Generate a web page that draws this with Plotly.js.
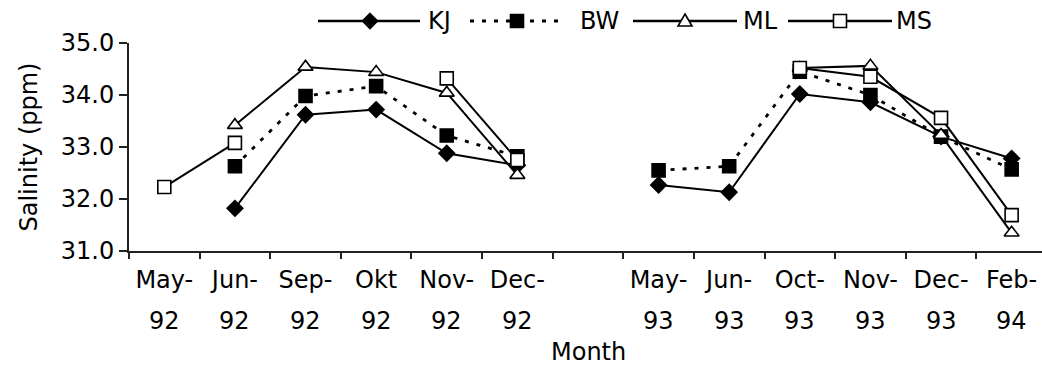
<!DOCTYPE html>
<html>
<head>
<meta charset="utf-8">
<script src="https://cdn.plot.ly/plotly-3.0.1.min.js"></script>
<style>
  html, body { margin: 0; padding: 0; background: #fff; }
  #chart { width: 1042px; height: 366px; }
</style>
</head>
<body>
<div id="chart"></div>
<script>
// ---- data ----
const months = ["May-92","Jun-92","Sep-92","Okt 92","Nov-92","Dec-92","gap","May-93","Jun-93","Oct-93","Nov-93","Dec-93","Feb-94"];
const monthLabels = ["May-","Jun-","Sep-","Okt","Nov-","Dec-","","May-","Jun-","Oct-","Nov-","Dec-","Feb-"];
const yearLabels = ["92","92","92","92","92","92","","93","93","93","93","93","94"];
const seriesNames = ["KJ","BW","ML","MS"];
const KJ = [null, 31.82, 33.62, 33.72, 32.88, 32.65, null, 32.27, 32.13, 34.02, 33.86, 33.20, 32.78];
const BW = [null, 32.63, 33.98, 34.17, 33.22, 32.82, null, 32.55, 32.63, 34.45, 34.00, 33.20, 32.57];
const ML = [null, 33.42, 34.54, 34.44, 34.04, 32.46, null, null, null, 34.52, 34.56, 33.23, 31.35];
const MS = [32.23, 33.08, null, null, 34.32, 32.75, null, null, null, 34.52, 34.35, 33.56, 31.69];
const yTicks = [31, 32, 33, 34, 35];

// ---- styles ----
const FONT = "DejaVu Sans, Liberation Sans, Arial, sans-serif";
const FS = 24;
const styles = {
  KJ: {dash: "solid", symbol: "diamond", size: 12, fill: "#000", lw: 2},
  BW: {dash: "4px,8px", symbol: "square", size: 13, fill: "#000", lw: 2.8},
  ML: {dash: "solid", symbol: "triangle-up", size: 13, fill: "#fff", lw: 2},
  MS: {dash: "solid", symbol: "square", size: 13, fill: "#fff", lw: 2}
};
const values = {KJ: KJ, BW: BW, ML: ML, MS: MS};

const traces = seriesNames.map(n => ({
  type: "scatter",
  mode: "lines+markers",
  name: n,
  x: months,
  y: values[n],
  connectgaps: false,
  line: {color: "#000", width: styles[n].lw, dash: styles[n].dash},
  marker: {symbol: styles[n].symbol, size: styles[n].size, color: styles[n].fill,
           line: {color: "#000", width: 1.6}},
  showlegend: false
}));

// ---- custom legend (long line samples like the original) ----
const L = 129, W = 913, T = 43, H = 208;
const px = v => (v - L) / W;
const py = v => (T + H - v) / H;
const legendPos = [
  {x0: 318, x1: 420, m: 370, t: 426},
  {x0: 470, x1: 563, m: 517, t: 578},
  {x0: 633, x1: 737, m: 685, t: 741},
  {x0: 788, x1: 892, m: 840, t: 894}
];
const ly = 21;
const shapes = [];
const annotations = [];
const markerPaths = {
  "diamond": "M0,7.5 L7.5,0 L0,-7.5 L-7.5,0 Z",
  "square": "M-6.5,-6.5 L6.5,-6.5 L6.5,6.5 L-6.5,6.5 Z",
  "triangle-up": "M0,7 L7,-5 L-7,-5 Z"
};
seriesNames.forEach((n, i) => {
  const p = legendPos[i], s = styles[n];
  shapes.push({type: "line", xref: "paper", yref: "paper",
    x0: px(p.x0), x1: px(p.x1), y0: py(ly), y1: py(ly),
    line: {color: "#000", width: s.lw + 0.4, dash: s.dash}});
  shapes.push({type: "path", xref: "paper", yref: "paper",
    xsizemode: "pixel", ysizemode: "pixel", xanchor: px(p.m), yanchor: py(ly),
    path: markerPaths[s.symbol], fillcolor: s.fill,
    line: {color: "#000", width: 1.6}});
  annotations.push({xref: "paper", yref: "paper", x: px(p.t), y: py(ly),
    xanchor: "left", yanchor: "middle", text: n, showarrow: false,
    font: {family: FONT, size: FS, color: "#000"}});
});

// second line of the category labels (year)
months.forEach((m, i) => {
  if (!yearLabels[i]) return;
  annotations.push({xref: "x", yref: "paper", x: m, y: py(321),
    xanchor: "center", yanchor: "middle", text: yearLabels[i], showarrow: false,
    font: {family: FONT, size: FS, color: "#000"}});
});
// x-axis title
annotations.push({xref: "paper", yref: "paper", x: px(588), y: py(352),
  xanchor: "center", yanchor: "middle", text: "Month", showarrow: false,
  font: {family: FONT, size: FS, color: "#000"}});

const layout = {
  width: 1042, height: 366,
  margin: {l: L, r: 0, t: T, b: 366 - T - H, pad: 0},
  paper_bgcolor: "#fff", plot_bgcolor: "#fff",
  font: {family: FONT, size: FS, color: "#000"},
  showlegend: false,
  xaxis: {
    type: "category",
    categoryorder: "array", categoryarray: months,
    tickmode: "array", tickvals: months, ticktext: monthLabels,
    tickson: "boundaries",
    range: [-0.5, 12.43],
    showline: true, linecolor: "#222", linewidth: 2,
    ticks: "outside", ticklen: 6, tickwidth: 2, tickcolor: "#222",
    showgrid: false, zeroline: false,
    tickfont: {size: FS},
    ticklabelstandoff: 6
  },
  yaxis: {
    range: [31, 35],
    tickmode: "array", tickvals: yTicks,
    tickformat: ".1f",
    showline: true, linecolor: "#222", linewidth: 2,
    ticks: "outside", ticklen: 8, tickwidth: 2, tickcolor: "#222",
    showgrid: false, zeroline: false,
    tickfont: {size: FS},
    title: {text: "Salinity (ppm)", font: {size: FS}, standoff: 16}
  },
  shapes: shapes,
  annotations: annotations
};

Plotly.newPlot("chart", traces, layout, {displayModeBar: false, staticPlot: true});
</script>
</body>
</html>
